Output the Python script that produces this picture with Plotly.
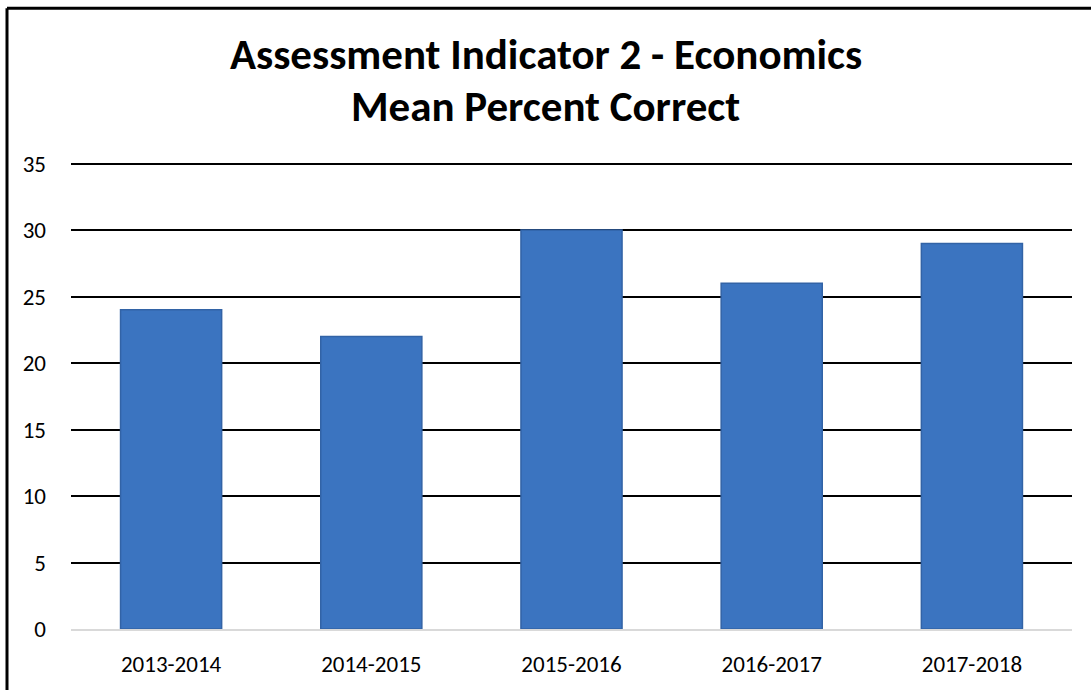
import plotly.graph_objects as go

# chart data
years = ['2013-2014', '2014-2015', '2015-2016', '2016-2017', '2017-2018']
mean_pct = [24, 22, 30, 26, 29]
y_ticks = [0, 5, 10, 15, 20, 25, 30, 35]
title_lines = ['Assessment Indicator 2 - Economics', 'Mean Percent Correct']

W, H = 1091, 690
L, R, T, B = 71, 19, 162, 57
pw, ph = W - L - R, H - T - B

fig = go.Figure()
fig.add_trace(go.Bar(x=years, y=mean_pct,
                     marker={'color': '#3b74c0',
                             'line': {'color': '#3263a6', 'width': 1.5}},
                     width=0.505, hoverinfo='skip'))

font = "Calibri, Carlito, sans-serif"
fig.update_layout(
    width=W, height=H,
    margin={'l': L, 'r': R, 't': T, 'b': B, 'pad': 0},
    plot_bgcolor='white', paper_bgcolor='white',
    showlegend=False,
    font={'family': font, 'color': '#000000', 'size': 23},
    xaxis={'showgrid': False, 'showline': True, 'linecolor': '#d9d9d9',
           'linewidth': 2, 'ticks': '', 'ticklabelstandoff': 13},
    yaxis={'range': [0, 35.12], 'tickvals': y_ticks, 'showgrid': True,
           'gridcolor': '#000000', 'gridwidth': 1.5, 'zeroline': False,
           'showline': False, 'ticks': '', 'ticklabelstandoff': 24},
)

# two-line bold title
for i, line in enumerate(title_lines):
    fig.add_annotation(text='<b>' + line + '</b>', xref='paper', yref='paper',
                       x=0.5 - (L - R) / 2 / pw, y=(H - B - (54 + 52 * i)) / ph,
                       xanchor='center', yanchor='middle', showarrow=False,
                       font={'size': 43, 'family': font, 'color': '#000000'})

# black frame on top/left, as in the original
fx = (7 - L) / pw
fy = (H - B - 7) / ph
fig.add_shape(type='line', xref='paper', yref='paper', x0=fx, x1=fx, y0=-0.5, y1=fy,
              line={'color': 'black', 'width': 3})
fig.add_shape(type='line', xref='paper', yref='paper', x0=fx, x1=1.2, y0=fy, y1=fy,
              line={'color': 'black', 'width': 3})

fig.write_html("out.html", config={'displayModeBar': False},
               post_script="document.body.style.margin='0';")
